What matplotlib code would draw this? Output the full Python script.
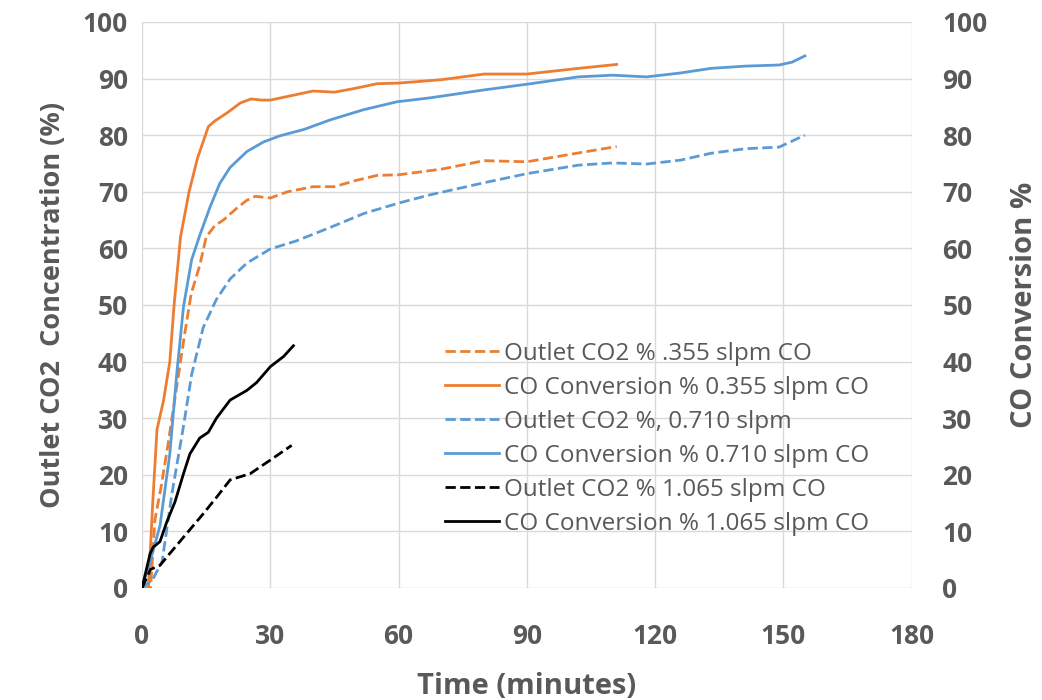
import matplotlib.pyplot as plt

plt.rcParams['font.family'] = ['Open Sans', 'DejaVu Sans']

# outlet CO2 %, 0.355 slpm CO
t_o355 = [0, 2, 3, 4.5, 6, 8, 10, 11.5, 13.5, 15, 17, 19, 22, 24.5, 26.5, 30, 34, 40, 45,
          50, 55, 60, 65, 70, 80, 90, 100, 111]
v_o355 = [0, 0, 12, 18, 25, 35, 45, 52, 57, 62, 64, 65, 67, 68.5, 69.2, 68.9, 70, 70.9, 70.9,
          72, 72.9, 73, 73.5, 74, 75.5, 75.3, 76.6, 78]

# CO conversion %, 0.355 slpm CO
t_c355 = [0, 1.5, 2.5, 3.5, 5, 6.5, 7.5, 9, 11, 13, 15.5, 17, 20, 23, 25.5, 28, 30, 35, 40,
          45, 50, 55, 60, 70, 80, 90, 102, 111]
v_c355 = [0, 0, 15, 28, 33, 40, 50, 62, 70, 76, 81.5, 82.5, 84, 85.7, 86.4, 86.2, 86.2, 87,
          87.8, 87.6, 88.3, 89.1, 89.2, 89.8, 90.8, 90.8, 91.8, 92.5]

# outlet CO2 %, 0.710 slpm
t_o710 = [0, 2.5, 4.7, 7, 9.7, 11.6, 14.3, 17.4, 20.6, 24.5, 30, 36, 44, 52, 60, 67, 80,
          90, 102, 110, 118, 126, 133, 141, 149, 155]
v_o710 = [0, 1.5, 4.7, 16.7, 28.6, 37.7, 46, 51, 54.6, 57.4, 59.9, 61.3, 63.7, 66.2, 68,
          69.4, 71.6, 73.2, 74.7, 75.1, 74.9, 75.6, 76.8, 77.6, 77.9, 80]

# CO conversion %, 0.710 slpm CO
t_c710 = [0, 1.9, 4.2, 6.5, 8.1, 9.7, 11.6, 13.5, 15.9, 18.2, 20.6, 24.5, 28.4, 32.3, 37.8,
          44, 51.8, 59.6, 67.4, 80, 90, 102, 110, 118, 126, 133, 141, 149, 152, 155]
v_c710 = [0, 4.7, 11, 23.7, 37.7, 49.7, 58, 62.3, 67.3, 71.5, 74.3, 77.1, 78.8, 79.9, 81,
          82.7, 84.5, 85.9, 86.6, 88, 89, 90.3, 90.6, 90.3, 91, 91.8, 92.2, 92.4, 92.9, 94]

# outlet CO2 %, 1.065 slpm CO
t_o1065 = [0, 2, 4.2, 6.5, 10.4, 14.3, 17.4, 20.6, 25.3, 30, 35]
v_o1065 = [0, 3.3, 4, 6.1, 9.6, 13.1, 16, 19.1, 20.2, 22.6, 25.2]

# CO conversion %, 1.065 slpm CO
t_c1065 = [0, 1.9, 2.6, 4.2, 5.8, 7.7, 9.7, 11.2, 13.5, 15.5, 17.4, 20.6, 24.5, 26.8, 30,
           33.1, 35.4]
v_c1065 = [0, 6.1, 7.2, 8.2, 11.7, 15.2, 20.2, 23.7, 26.5, 27.5, 30, 33.2, 34.9, 36.3,
           39.1, 40.9, 42.8]

orange = '#ED7D31'
blue = '#5B9BD5'
gray = '#595959'

fig = plt.figure(figsize=(10.42, 7), dpi=100)
ax = fig.add_axes([0.1363, 0.16, 0.7387, 0.8086])

lw = 2
ax.plot(t_o355, v_o355, '--', color=orange, lw=lw, label='Outlet CO2 % .355 slpm CO')
ax.plot(t_c355, v_c355, '-', color=orange, lw=lw, label='CO Conversion % 0.355 slpm CO')
ax.plot(t_o710, v_o710, '--', color=blue, lw=lw, label='Outlet CO2 %, 0.710 slpm')
ax.plot(t_c710, v_c710, '-', color=blue, lw=lw, label='CO Conversion % 0.710 slpm CO')
ax.plot(t_o1065, v_o1065, '--', color='black', lw=lw, label='Outlet CO2 % 1.065 slpm CO')
ax.plot(t_c1065, v_c1065, '-', color='black', lw=lw, label='CO Conversion % 1.065 slpm CO')

ax.set_xlim(0, 180)
ax.set_ylim(0, 100)
ax.set_xticks(range(0, 181, 30))
ax.set_yticks(range(0, 101, 10))
ax.grid(True, color='#d9d9d9', lw=1)
ax.set_axisbelow(True)
for s in ax.spines.values():
    s.set_visible(False)
ax.tick_params(length=0, labelsize=19, labelcolor=gray)
ax.tick_params(axis='y', pad=10)
ax.tick_params(axis='x', pad=25)
for lab in ax.get_xticklabels() + ax.get_yticklabels():
    lab.set_fontweight('bold')

ax.set_xlabel('Time (minutes)', fontsize=21, fontweight='bold', color=gray, labelpad=16)
ax.set_ylabel('Outlet CO2  Concentration (%)', fontsize=19.5, fontweight='bold', color=gray,
              labelpad=12)

ax2 = ax.twinx()
ax2.set_ylim(0, 100)
ax2.set_yticks(range(0, 101, 10))
for s in ax2.spines.values():
    s.set_visible(False)
ax2.tick_params(length=0, labelsize=19, labelcolor=gray, pad=22)
for lab in ax2.get_yticklabels():
    lab.set_fontweight('bold')
ax2.set_ylabel('CO Conversion %', fontsize=21, fontweight='bold', color=gray, labelpad=16)

leg = ax.legend(loc='upper left', bbox_to_anchor=(0.393, 0.435), frameon=False, fontsize=17.5,
                handlelength=2.25, handletextpad=0.2, labelspacing=0.41, borderaxespad=0,
                borderpad=0)
for txt in leg.get_texts():
    txt.set_color(gray)

plt.savefig('out.png', dpi=100)
